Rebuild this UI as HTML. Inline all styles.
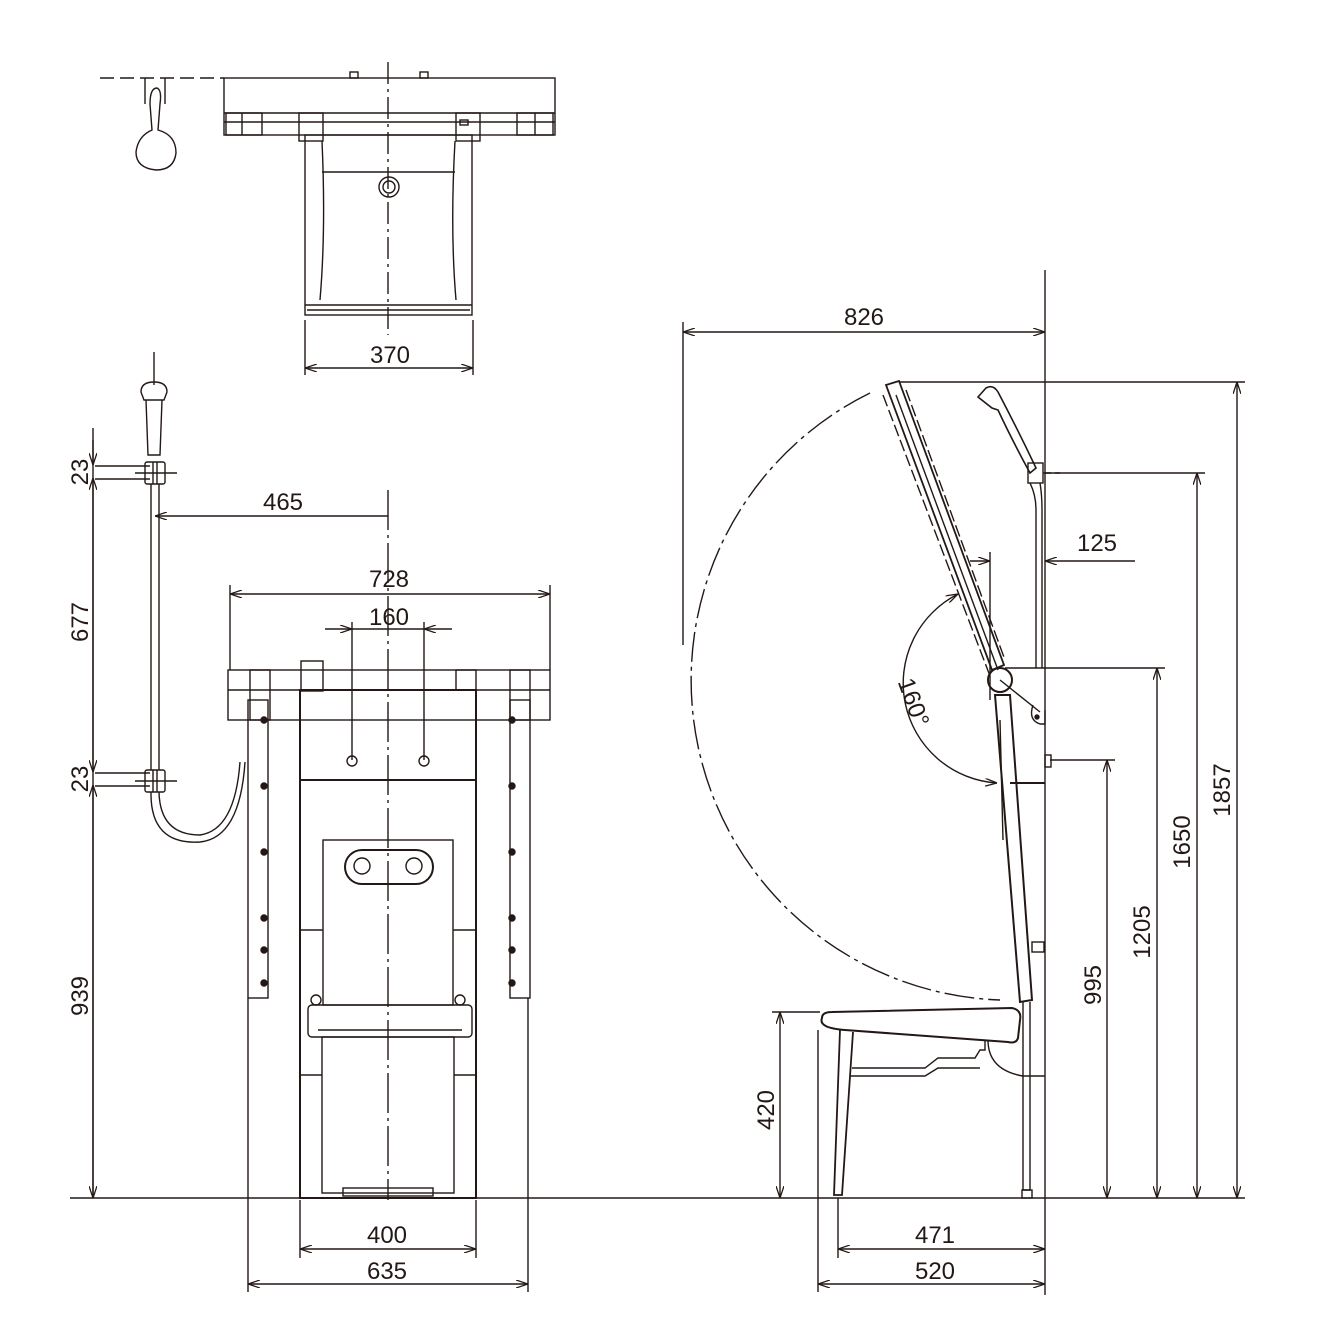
<!DOCTYPE html>
<html><head><meta charset="utf-8"><style>
html,body{margin:0;padding:0;background:#fff}
svg{display:block}
text{font-family:"Liberation Sans",Arial,sans-serif;font-size:24px;fill:#231815}
</style></head><body>
<svg width="1318" height="1318" viewBox="0 0 1318 1318" xmlns="http://www.w3.org/2000/svg">
<defs>
<marker id="a" viewBox="0 0 12 8" refX="12" refY="4" markerWidth="12" markerHeight="8" orient="auto-start-reverse" markerUnits="userSpaceOnUse"><path d="M0,0 L12,4 L0,8" fill="none" stroke="#231815" stroke-width="1.3"/></marker>
</defs>
<g stroke="#231815" fill="none" stroke-width="1.4">
<line x1="70" y1="1198" x2="1045" y2="1198"/>
<line x1="1045" y1="270" x2="1045" y2="1295"/>

<!-- TOP VIEW -->
<line x1="100" y1="78" x2="224" y2="78" stroke-dasharray="14,6"/>
<line x1="388" y1="62" x2="388" y2="335" stroke-dasharray="22,5,3,5"/>
<rect x="224" y="78" width="331" height="57"/>
<line x1="224" y1="113" x2="555" y2="113"/>
<line x1="224" y1="122" x2="555" y2="122"/>
<rect x="226" y="113" width="36" height="22"/><line x1="242" y1="113" x2="242" y2="135"/>
<rect x="517" y="113" width="36" height="22"/><line x1="535" y1="113" x2="535" y2="135"/>
<rect x="299" y="113" width="24" height="28"/>
<rect x="456" y="113" width="24" height="28"/><rect x="460" y="120" width="8" height="5"/>
<rect x="350" y="72" width="8" height="6"/><rect x="420" y="72" width="8" height="6"/>
<rect x="305" y="135" width="167" height="180"/>
<line x1="305" y1="305" x2="472" y2="305"/>
<line x1="307" y1="310" x2="470" y2="310"/>
<line x1="322" y1="172" x2="455" y2="172"/>
<path d="M322,141 Q326,230 320,300 M455,141 Q450,230 456,300"/>
<circle cx="389" cy="187" r="10"/><circle cx="389" cy="187" r="6"/>
<path d="M145,78 L145,104 M165,78 L165,104"/>
<path d="M150,104 Q150,88 157,88 Q162,90 160,104 L158,130 Q176,135 176,153 Q174,170 156,170 Q136,168 136,152 Q138,136 152,130 Z"/>
<line x1="305" y1="320" x2="305" y2="375"/><line x1="473" y1="320" x2="473" y2="375"/>
<line x1="305" y1="368" x2="473" y2="368" marker-start="url(#a)" marker-end="url(#a)"/>

<!-- FRONT VIEW -->
<line x1="388" y1="490" x2="388" y2="1200" stroke-dasharray="40,5,3,5"/>
<line x1="154" y1="352" x2="154" y2="385"/>
<path d="M141,392 Q141,382 154,382 Q167,382 167,392 L164,400 L144,400 Z"/>
<path d="M146,400 L148,455 L160,455 L162,400"/>
<rect x="145" y="462" width="20" height="22" rx="2" fill="#fff"/><line x1="153" y1="462" x2="153" y2="484"/><line x1="157" y1="462" x2="157" y2="484"/>
<line x1="135" y1="473" x2="177" y2="473"/>
<path d="M151,484 L151,770 M159,484 L159,770"/>
<rect x="145" y="770" width="20" height="22" rx="2" fill="#fff"/><line x1="153" y1="770" x2="153" y2="792"/><line x1="157" y1="770" x2="157" y2="792"/>
<line x1="135" y1="781" x2="177" y2="781"/>
<path d="M151,792 Q150,845 200,842 Q240,838 245,762"/>
<path d="M159,792 Q160,835 200,835 Q235,830 240,762"/>
<line x1="93" y1="428" x2="93" y2="1198"/>
<line x1="93" y1="440" x2="93" y2="465" marker-end="url(#a)"/>
<line x1="93" y1="478" x2="93" y2="772" marker-start="url(#a)" marker-end="url(#a)"/>
<line x1="93" y1="785" x2="93" y2="1198" marker-start="url(#a)" marker-end="url(#a)"/>
<line x1="95" y1="466" x2="150" y2="466"/><line x1="95" y1="479" x2="150" y2="479"/>
<line x1="95" y1="773" x2="150" y2="773"/><line x1="95" y1="786" x2="150" y2="786"/>
<line x1="155" y1="516" x2="388" y2="516" marker-start="url(#a)"/>
<line x1="230" y1="585" x2="230" y2="670"/><line x1="550" y1="585" x2="550" y2="670"/>
<line x1="230" y1="594" x2="550" y2="594" marker-start="url(#a)" marker-end="url(#a)"/>
<line x1="352" y1="622" x2="352" y2="760"/><line x1="424" y1="622" x2="424" y2="760"/>
<line x1="325" y1="629" x2="352" y2="629" marker-end="url(#a)"/>
<line x1="452" y1="629" x2="424" y2="629" marker-end="url(#a)"/>
<line x1="352" y1="629" x2="424" y2="629"/>
<rect x="228" y="670" width="322" height="50"/>
<line x1="228" y1="690" x2="550" y2="690"/>
<rect x="250" y="670" width="20" height="50"/>
<rect x="510" y="670" width="20" height="50"/>
<rect x="301" y="661" width="22" height="30"/>
<rect x="456" y="670" width="20" height="20"/>
<rect x="248" y="700" width="20" height="298"/>
<rect x="510" y="700" width="20" height="298"/>
<g fill="#231815">
<circle cx="264" cy="720" r="3"/><circle cx="264" cy="786" r="3"/><circle cx="264" cy="852" r="3"/><circle cx="264" cy="918" r="3"/><circle cx="264" cy="950" r="3"/><circle cx="264" cy="983" r="3"/>
<circle cx="512" cy="720" r="3"/><circle cx="512" cy="786" r="3"/><circle cx="512" cy="852" r="3"/><circle cx="512" cy="918" r="3"/><circle cx="512" cy="950" r="3"/><circle cx="512" cy="983" r="3"/>
</g>
<rect x="300" y="690" width="176" height="508" stroke-width="2"/>
<line x1="300" y1="780" x2="476" y2="780" stroke-width="2"/>
<circle cx="352" cy="761" r="5"/><circle cx="424" cy="761" r="5"/>
<rect x="323" y="840" width="130" height="165"/>
<rect x="345" y="850" width="88" height="34" rx="17" stroke-width="2"/>
<circle cx="362" cy="866" r="8"/><circle cx="414" cy="866" r="8"/>
<line x1="300" y1="930" x2="323" y2="930"/><line x1="453" y1="930" x2="476" y2="930"/>
<circle cx="316" cy="1000" r="5"/><circle cx="460" cy="1000" r="5"/>
<rect x="308" y="1005" width="164" height="32" rx="4"/>
<line x1="318" y1="1030" x2="462" y2="1030"/>
<rect x="322" y="1037" width="132" height="156"/>
<line x1="300" y1="1075" x2="322" y2="1075"/><line x1="454" y1="1075" x2="476" y2="1075"/>
<rect x="343" y="1188" width="90" height="8"/>
<line x1="300" y1="1200" x2="300" y2="1258"/><line x1="476" y1="1200" x2="476" y2="1258"/>
<line x1="300" y1="1249" x2="476" y2="1249" marker-start="url(#a)" marker-end="url(#a)"/>
<line x1="248" y1="998" x2="248" y2="1292"/><line x1="528" y1="998" x2="528" y2="1292"/>
<line x1="248" y1="1284" x2="528" y2="1284" marker-start="url(#a)" marker-end="url(#a)"/>

<!-- SIDE VIEW -->
<path d="M870,393 A320,320 0 0 0 1000,1000" stroke-dasharray="30,5,4,5"/>
<path d="M958,594 A100,100 0 0 0 997,783" marker-start="url(#a)" marker-end="url(#a)"/>
<!-- folded arm -->
<path d="M886,385 L899,381 L1004,665 L992,670 Z" stroke-width="1.8"/>
<line x1="896" y1="395" x2="998" y2="670"/>
<line x1="883" y1="395" x2="990" y2="676" stroke-dasharray="12,4"/>
<line x1="906" y1="390" x2="1005" y2="660" stroke-dasharray="12,4"/>
<circle cx="1000" cy="680" r="12" stroke-width="2"/>
<path d="M1000,680 L1040,712"/><path d="M1033,705 Q1028,720 1040,724 L1045,724 L1045,710"/>
<circle cx="1037" cy="717" r="2" fill="#231815"/>
<line x1="990" y1="552" x2="990" y2="700"/>
<line x1="1005" y1="668" x2="1045" y2="668"/>
<line x1="1000" y1="720" x2="1003" y2="840"/>
<!-- backrest -->
<path d="M995,695 L1010,695 L1032,1000 L1020,1002 Z" stroke-width="2"/>
<line x1="1010" y1="783" x2="1045" y2="783" stroke-width="2"/>
<!-- shower -->
<path d="M978,397 L986,388 Q993,384 998,392 Q1018,430 1036,468 L1030,473 Q1012,440 998,410 L992,408 Z" stroke-width="1.6"/>
<rect x="1028" y="463" width="15" height="20"/>
<path d="M1030,483 Q1036,495 1036,510 L1036,668 M1040,483 Q1042,495 1042,510 L1042,668"/>
<line x1="1043" y1="473" x2="1060" y2="473" stroke-dasharray="8,4"/>
<rect x="1045" y="755" width="6" height="12"/>
<rect x="1032" y="942" width="12" height="10"/>
<!-- seat -->
<path d="M822,1018 Q822,1012 832,1012 L1012,1008 Q1022,1010 1020,1020 L1018,1038 Q1016,1044 1008,1042 L845,1030 Q818,1028 822,1018 Z" stroke-width="2"/>
<path d="M840,1030 L834,1195 L842,1195 L853,1032" stroke-width="1.8"/>
<path d="M852,1068 L925,1068 L938,1058 L975,1058 L980,1050 L985,1050 L985,1040"/>
<path d="M850,1076 L925,1076 L938,1068 L980,1068"/>
<path d="M988,1040 Q988,1070 1023,1076 L1045,1076"/>
<path d="M1023,1002 L1023,1190 L1030,1190 L1030,1002"/>
<rect x="1022" y="1190" width="10" height="8"/>
<!-- dims -->
<line x1="683" y1="322" x2="683" y2="645"/>
<line x1="683" y1="332" x2="1045" y2="332" marker-start="url(#a)" marker-end="url(#a)"/>
<line x1="970" y1="561" x2="990" y2="561" marker-end="url(#a)"/>
<line x1="1135" y1="561" x2="1045" y2="561" marker-end="url(#a)"/>
<line x1="900" y1="382" x2="1245" y2="382"/>
<line x1="1237" y1="382" x2="1237" y2="1198" marker-start="url(#a)" marker-end="url(#a)"/>
<line x1="1045" y1="473" x2="1205" y2="473"/>
<line x1="1197" y1="473" x2="1197" y2="1198" marker-start="url(#a)" marker-end="url(#a)"/>
<line x1="1045" y1="668" x2="1165" y2="668"/>
<line x1="1157" y1="668" x2="1157" y2="1198" marker-start="url(#a)" marker-end="url(#a)"/>
<line x1="1050" y1="760" x2="1115" y2="760"/>
<line x1="1107" y1="760" x2="1107" y2="1198" marker-start="url(#a)" marker-end="url(#a)"/>
<line x1="1045" y1="1198" x2="1245" y2="1198"/>
<line x1="772" y1="1012" x2="820" y2="1012"/>
<line x1="780" y1="1012" x2="780" y2="1198" marker-start="url(#a)" marker-end="url(#a)"/>
<line x1="838" y1="1198" x2="838" y2="1258"/>
<line x1="838" y1="1249" x2="1045" y2="1249" marker-start="url(#a)" marker-end="url(#a)"/>
<line x1="818" y1="1030" x2="818" y2="1292"/>
<line x1="818" y1="1284" x2="1045" y2="1284" marker-start="url(#a)" marker-end="url(#a)"/>
</g>
<g>
<text x="390" y="363" text-anchor="middle">370</text>
<text x="283" y="510" text-anchor="middle">465</text>
<text x="389" y="587" text-anchor="middle">728</text>
<text x="389" y="625" text-anchor="middle">160</text>
<text x="387" y="1243" text-anchor="middle">400</text>
<text x="387" y="1279" text-anchor="middle">635</text>
<text transform="translate(88,472) rotate(-90)" text-anchor="middle">23</text>
<text transform="translate(88,622) rotate(-90)" text-anchor="middle">677</text>
<text transform="translate(88,779) rotate(-90)" text-anchor="middle">23</text>
<text transform="translate(88,996) rotate(-90)" text-anchor="middle">939</text>
<text x="864" y="325" text-anchor="middle">826</text>
<text x="1097" y="551" text-anchor="middle">125</text>
<text transform="translate(906,705) rotate(70)" text-anchor="middle">160°</text>
<text transform="translate(1230,790) rotate(-90)" text-anchor="middle">1857</text>
<text transform="translate(1190,842) rotate(-90)" text-anchor="middle">1650</text>
<text transform="translate(1150,932) rotate(-90)" text-anchor="middle">1205</text>
<text transform="translate(1101,985) rotate(-90)" text-anchor="middle">995</text>
<text transform="translate(774,1110) rotate(-90)" text-anchor="middle">420</text>
<text x="935" y="1243" text-anchor="middle">471</text>
<text x="935" y="1279" text-anchor="middle">520</text>
</g>
</svg>
</body></html>
